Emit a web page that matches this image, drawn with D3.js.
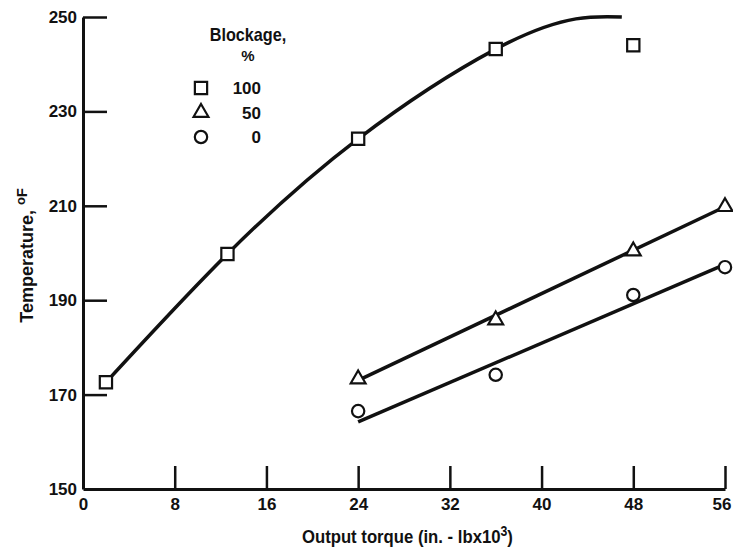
<!DOCTYPE html>
<html>
<head>
<meta charset="utf-8">
<script src="https://cdn.jsdelivr.net/npm/d3@7"></script>
<style>
  html, body { margin: 0; padding: 0; background: #fff; }
  svg { display: block; }
  text { font-family: "Liberation Sans", Arial, sans-serif; font-weight: bold; fill: #111; }
</style>
</head>
<body>
<svg id="chart" width="733" height="552"></svg>
<script>
// Output torque (in.-lb x 10^3) and temperature (deg F) for each blockage level
const torque100 = [2, 12.6, 24, 36, 48];
const temp100   = [172.6, 199.8, 224.2, 243.2, 244.0];
const torque50  = [24, 36, 48, 56];
const temp50    = [173.3, 185.8, 200.4, 209.8];
const torque0   = [24, 36, 48, 56];
const temp0     = [166.5, 174.2, 191.1, 197.0];

// Faired curve for 100 % blockage
const fairTorque100 = [2, 12.6, 24, 36, 43, 47];
const fairTemp100   = [172.6, 199.8, 224.2, 243.2, 249.6, 250.0];
// Straight-line fits for 50 % and 0 % blockage
const fitTorque50 = [24, 56];
const fitTemp50   = [173.0, 209.8];
const fitTorque0  = [24, 56];
const fitTemp0    = [164.2, 197.6];

const xTicks = [0, 8, 16, 24, 32, 40, 48, 56];
const yTicks = [150, 170, 190, 210, 230, 250];

const legendLevels = ["100", "50", "0"];
const legendShapes = ["square", "triangle", "circle"];

const FONT = "'Liberation Sans', Arial, sans-serif";

const svg = d3.select("#chart");
const x = d3.scaleLinear().domain([0, 56]).range([83, 725]);
const y = d3.scaleLinear().domain([150, 250]).range([489, 17]);

// Axes: ticks point into the plot area
const xAxis = d3.axisBottom(x).tickValues(xTicks).tickSizeInner(-23).tickSizeOuter(0).tickPadding(9);
const yAxis = d3.axisLeft(y).tickValues(yTicks).tickSizeInner(-24).tickSizeOuter(0).tickPadding(6);

const gx = svg.append("g").attr("transform", `translate(0,${y(150)})`).call(xAxis);
const gy = svg.append("g").attr("transform", `translate(${x(0)},0)`).call(yAxis);

[gx, gy].forEach(g => {
  g.select(".domain").attr("stroke", "#111").attr("stroke-width", 3);
  g.selectAll(".tick line").attr("stroke", "#111").attr("stroke-width", 2.5);
  g.selectAll(".tick text").attr("font-size", 17).attr("fill", "#111")
    .attr("font-family", FONT).attr("font-weight", "bold");
});
gy.selectAll(".tick").filter(d => d === 150).select("line").remove();
gx.selectAll(".tick").filter(d => d === 0).select("line").remove();
// keep the last torque label inside the frame
gx.selectAll(".tick").filter(d => d === 56).select("text").attr("text-anchor", "end").attr("x", 6);

// Axis titles (horizontally condensed)
const xt = svg.append("text").attr("transform", `translate(${x(28.3)},543) scale(0.88,1)`)
  .attr("text-anchor", "middle").attr("font-size", 19);
xt.append("tspan").text("Output torque (in. - lbx10");
xt.append("tspan").attr("dy", -7).attr("font-size", 14).text("3");
xt.append("tspan").attr("dy", 7).text(")");

const yt = svg.append("text").attr("transform", `translate(33,${y(199.5)}) rotate(-90)`)
  .attr("text-anchor", "middle").attr("font-size", 18);
yt.append("tspan").text("Temperature, ");
yt.append("tspan").attr("dy", -8).attr("font-size", 13).text("o");
yt.append("tspan").attr("dy", 2).attr("font-size", 15).text("F");

// Lines
const line = d3.line().x(d => x(d[0])).y(d => y(d[1]));
const zip = (a, b) => a.map((v, i) => [v, b[i]]);

svg.append("path").datum(zip(fairTorque100, fairTemp100))
  .attr("d", line.curve(d3.curveNatural)).attr("fill", "none").attr("stroke", "#111").attr("stroke-width", 3.5);
svg.append("path").datum(zip(fitTorque50, fitTemp50))
  .attr("d", line.curve(d3.curveLinear)).attr("fill", "none").attr("stroke", "#111").attr("stroke-width", 3.5);
svg.append("path").datum(zip(fitTorque0, fitTemp0))
  .attr("d", line.curve(d3.curveLinear)).attr("fill", "none").attr("stroke", "#111").attr("stroke-width", 3.5);

// Markers
const symbolFor = {
  square: d3.symbol().type(d3.symbolSquare).size(150),
  triangle: d3.symbol().type(d3.symbolTriangle).size(95),
  circle: d3.symbol().type(d3.symbolCircle).size(120)
};
function drawMarkers(xs, ys, shape) {
  svg.append("g").selectAll("path").data(zip(xs, ys)).join("path")
    .attr("transform", d => `translate(${x(d[0])},${y(d[1])})`)
    .attr("d", symbolFor[shape]())
    .attr("fill", "#fff").attr("stroke", "#111").attr("stroke-width", 2.2);
}
drawMarkers(torque100, temp100, "square");
drawMarkers(torque50, temp50, "triangle");
drawMarkers(torque0, temp0, "circle");

// Legend
const lg = svg.append("g");
lg.append("text").attr("transform", "translate(248,41) scale(0.9,1)").attr("text-anchor", "middle")
  .attr("font-size", 18).text("Blockage,");
lg.append("text").attr("x", 248).attr("y", 61).attr("text-anchor", "middle").attr("font-size", 15).text("%");
legendLevels.forEach((lvl, i) => {
  const cy = 88 + i * 24.5;
  lg.append("path").attr("transform", `translate(201,${cy})`).attr("d", symbolFor[legendShapes[i]]())
    .attr("fill", "#fff").attr("stroke", "#111").attr("stroke-width", 2.2);
  lg.append("text").attr("x", 261).attr("y", cy + 6).attr("text-anchor", "end").attr("font-size", 17).text(lvl);
});
</script>
</body>
</html>
